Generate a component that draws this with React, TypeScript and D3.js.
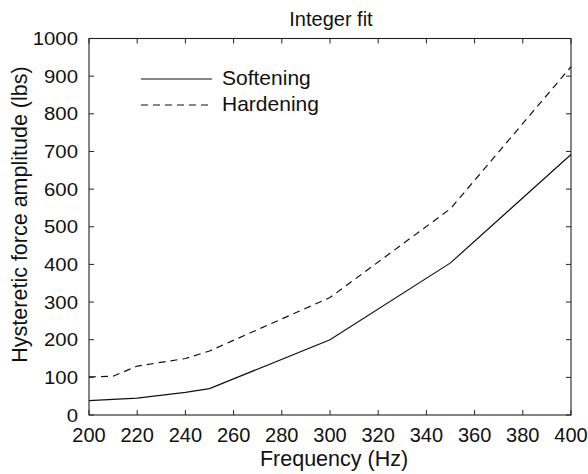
import React from "react";
import * as d3 from "d3";

const freqSoft = [200, 220, 240, 250, 300, 350, 400];
const softening = [38, 45, 60, 70, 200, 404, 692];
const freqHard = [200, 210, 220, 240, 250, 300, 350, 400];
const hardening = [101, 103, 130, 150, 170, 312, 548, 925];
const xTicks = [200, 220, 240, 260, 280, 300, 320, 340, 360, 380, 400];
const yTicks = [0, 100, 200, 300, 400, 500, 600, 700, 800, 900, 1000];
const legendLabels = ["Softening", "Hardening"];

const W = 588, H = 474;
const L = 89, R = 571, T = 38.5, B = 415;
const FONT = "'Liberation Sans', Arial, Helvetica, sans-serif";

export default function App() {
  const x = d3.scaleLinear().domain([200, 400]).range([L, R]);
  const y = d3.scaleLinear().domain([0, 1000]).range([B, T]);
  const line = d3.line<[number, number]>().x(d => x(d[0])).y(d => y(d[1]));
  const softPath = line(freqSoft.map((f, i) => [f, softening[i]]) as [number, number][]) || "";
  const hardPath = line(freqHard.map((f, i) => [f, hardening[i]]) as [number, number][]) || "";
  const tl = 5;
  return (
    <svg width={W} height={H} style={{ position: "absolute", left: 0, top: 0, background: "#fff" }} fontFamily={FONT}>
      <rect x={0} y={0} width={W} height={H} fill="#fff" />
      <text x={331} y={26} textAnchor="middle" fontSize={20} fill="#111">Integer fit</text>
      {/* frame */}
      <rect x={L} y={T} width={R - L} height={B - T} fill="none" stroke="#222" strokeWidth={1.1} />
      {xTicks.map(t => (
        <g key={"x" + t}>
          <line x1={x(t)} x2={x(t)} y1={B} y2={B - tl} stroke="#222" strokeWidth={1} />
          <line x1={x(t)} x2={x(t)} y1={T} y2={T + tl} stroke="#222" strokeWidth={1} />
          <text x={x(t)} y={442} textAnchor="middle" fontSize={20} fill="#111">{t}</text>
        </g>
      ))}
      {yTicks.map(t => (
        <g key={"y" + t} transform={`translate(78,${y(t)}) scale(1.1,1)`}>
          <line x1={(L - 78) / 1.1} x2={(L + tl - 78) / 1.1} y1={0} y2={0} stroke="#222" strokeWidth={1} />
          <text x={0} y={0} dy="0.36em" textAnchor="end" fontSize={18.5} fill="#111">{t}</text>
        </g>
      ))}
      {yTicks.map(t => (
        <line key={"yr" + t} x1={R} x2={R - tl} y1={y(t)} y2={y(t)} stroke="#222" strokeWidth={1} />
      ))}
      <text x={334} y={466} textAnchor="middle" fontSize={21.5} fill="#111">Frequency (Hz)</text>
      <text transform={`translate(27,214.5) rotate(-90)`} textAnchor="middle" fontSize={21.5} fill="#111">
        Hysteretic force amplitude (lbs)
      </text>
      <path d={softPath} fill="none" stroke="#111" strokeWidth={1.2} />
      <path d={hardPath} fill="none" stroke="#111" strokeWidth={1.2} strokeDasharray="7,5" />
      {/* legend */}
      <line x1={141} x2={212} y1={79} y2={79} stroke="#111" strokeWidth={1.2} />
      <text x={222} y={85} fontSize={21} fill="#111">{legendLabels[0]}</text>
      <line x1={141} x2={212} y1={105} y2={105} stroke="#111" strokeWidth={1.2} strokeDasharray="7,5" />
      <text x={222} y={111} fontSize={21} fill="#111">{legendLabels[1]}</text>
    </svg>
  );
}
